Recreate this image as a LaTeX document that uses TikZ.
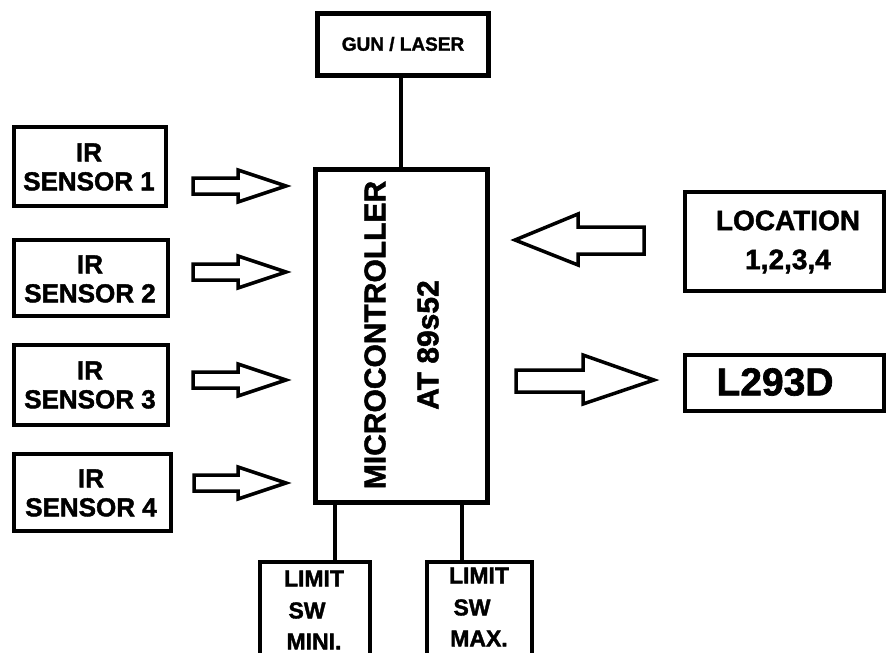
\documentclass[tikz,border=0pt]{standalone}
\usepackage{fontspec}
\setmainfont{Liberation Sans}
\newfontfamily\heavy{Liberation Sans Bold}[FakeBold=1.6]
\begin{document}
\begin{tikzpicture}[x=1pt,y=-1pt,
  box/.style={draw=black,line width=4.5pt},
  wire/.style={draw=black,line width=4.5pt},
  blk/.style={draw=black,line width=3.5pt,line join=miter,fill=white},
  lbl/.style={align=center,inner sep=0pt}]
\useasboundingbox (0,0) rectangle (887,653);
\fill[white] (0,0) rectangle (887,653);
\clip (0,0) rectangle (887,653);
% boxes
\draw[box] (317.5,13.5) rectangle (488.5,75.5);
\coordinate (gunb) at (401,75.5);
\draw[box] (315.5,169.5) rectangle (487.5,502.5);
\coordinate (mct) at (401,169.5);
\coordinate (mcb1) at (335,502.5);
\coordinate (mcb2) at (462,502.5);
\draw[box] (14,127) rectangle (166,206);
\draw[box] (14,240) rectangle (168,316);
\draw[box] (14,345) rectangle (168,425);
\draw[box] (14,454) rectangle (171,531);
\draw[box] (685,192) rectangle (884,291);
\draw[box] (685,355) rectangle (884,411);
\draw[box] (260,562) rectangle (370,670);
\draw[box] (427,562) rectangle (532,670);
\coordinate (l1t) at (335,562);
\coordinate (l2t) at (462,562);
% wires
\draw[wire] (gunb) -- (mct);
\draw[wire] (mcb1) -- (l1t);
\draw[wire] (mcb2) -- (l2t);
% labels
\node[lbl,font=\heavy\fontsize{19}{22}\selectfont] (gun) at (403,44) {GUN / LASER};
\node[lbl,font=\heavy\fontsize{30}{34}\selectfont,rotate=90] (mc1) at (375,335) {MICROCONTROLLER};
\node[lbl,font=\heavy\fontsize{30}{34}\selectfont,rotate=90] (mc2) at (428,345) {AT 89s52};
\node[lbl,font=\heavy\fontsize{26}{29}\selectfont] (s1) at (89,167) {IR\\SENSOR 1};
\node[lbl,font=\heavy\fontsize{26}{29}\selectfont] (s2) at (90,279) {IR\\SENSOR 2};
\node[lbl,font=\heavy\fontsize{26}{29}\selectfont] (s3) at (90,385) {IR\\SENSOR 3};
\node[lbl,font=\heavy\fontsize{26}{29}\selectfont] (s4) at (91,493) {IR\\SENSOR 4};
\node[lbl,font=\heavy\fontsize{28}{39}\selectfont] (loc) at (788,242) {LOCATION\\1,2,3,4};
\node[lbl,font=\heavy\fontsize{39}{44}\selectfont] (drv) at (775,382) {L293D};
\node[lbl,font=\heavy\fontsize{23}{31}\selectfont] (lim1) at (314,610) {LIMIT\\[1pt]\hspace*{-14pt}SW\\MINI.};
\node[lbl,font=\heavy\fontsize{23}{31}\selectfont] (lim2) at (479,607) {LIMIT\\[1pt]\hspace*{-14pt}SW\\MAX.};
% block arrows (right-pointing from sensors)
\foreach \cy/\tx in {186/193,272/193,380/193,483/194}{
  \draw[blk] (\tx,\cy-8) -- (238,\cy-8) -- (238,\cy-16) -- (286,\cy) -- (238,\cy+16) -- (238,\cy+8) -- (\tx,\cy+8) -- cycle;
}
% left arrow from location
\draw[blk] (644,227) -- (578,227) -- (578,214) -- (515,240) -- (578,265) -- (578,254) -- (644,254) -- cycle;
% right arrow to L293D
\draw[blk] (516,370) -- (583,370) -- (583,355) -- (654,380) -- (583,404) -- (583,392) -- (516,392) -- cycle;
\end{tikzpicture}
\end{document}
